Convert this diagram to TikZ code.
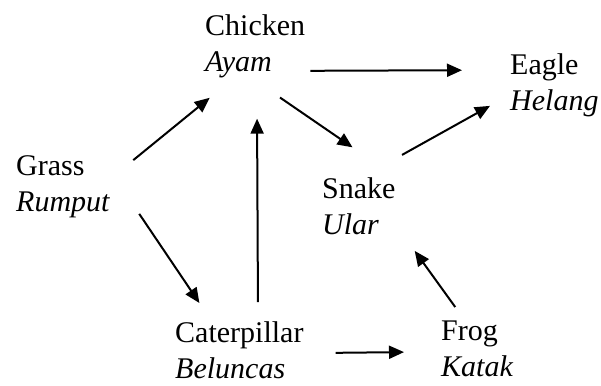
\documentclass[tikz,border=0pt]{standalone}
\usepackage{fontspec}
\setmainfont{Liberation Serif}
\usepackage{tikz}
\usetikzlibrary{arrows.meta}

\begin{document}
\begin{tikzpicture}[
   x=1pt,y=-1pt,
   sp/.style={align=left,inner sep=0pt,anchor=north west,font=\fontsize{30}{36}\selectfont},
   eats/.style={-{Triangle[length=15pt,width=13pt]},line width=2pt}]
\useasboundingbox (0,0) rectangle (601,385);
\node[sp] (chicken) at (205,14.5) {Chicken\\\textit{Ayam}};
\node[sp] (eagle) at (510,53.5) {Eagle\\\textit{Helang}};
\node[sp] (grass) at (16,155) {Grass\\\textit{Rumput}};
\node[sp] (snake) at (322,177) {Snake\\\textit{Ular}};
\node[sp] (caterpillar) at (175,321) {Caterpillar\\\textit{Beluncas}};
\node[sp] (frog) at (441,321) {Frog\\\textit{Katak}};
\draw[eats,shorten <=29.6pt,shorten >=31pt]  (grass.9) to (chicken.236);
\draw[eats,shorten <=5pt,shorten >=48pt]  (chicken.334.4) to (eagle.161.2);
\draw[eats,shorten <=34.2pt,shorten >=52.4pt]  (chicken.264.4) to (snake.north east);
\draw[eats,shorten <=45.4pt,shorten >=22.9pt]  (snake.83.4) to (eagle.192.7);
\draw[eats,shorten <=19pt,shorten >=40.5pt]  (caterpillar.57.3) to (chicken.273.6);
\draw[eats,shorten <=51.7pt,shorten >=21.7pt]  (grass.18.8) to (caterpillar.134.8);
\draw[eats,shorten <=32pt,shorten >=37pt]  (caterpillar.357.3) to (frog.184.8);
\draw[eats,shorten <=17.2pt,shorten >=32.5pt]  (frog.113.2) to (snake.333.6);
\end{tikzpicture}
\end{document}
